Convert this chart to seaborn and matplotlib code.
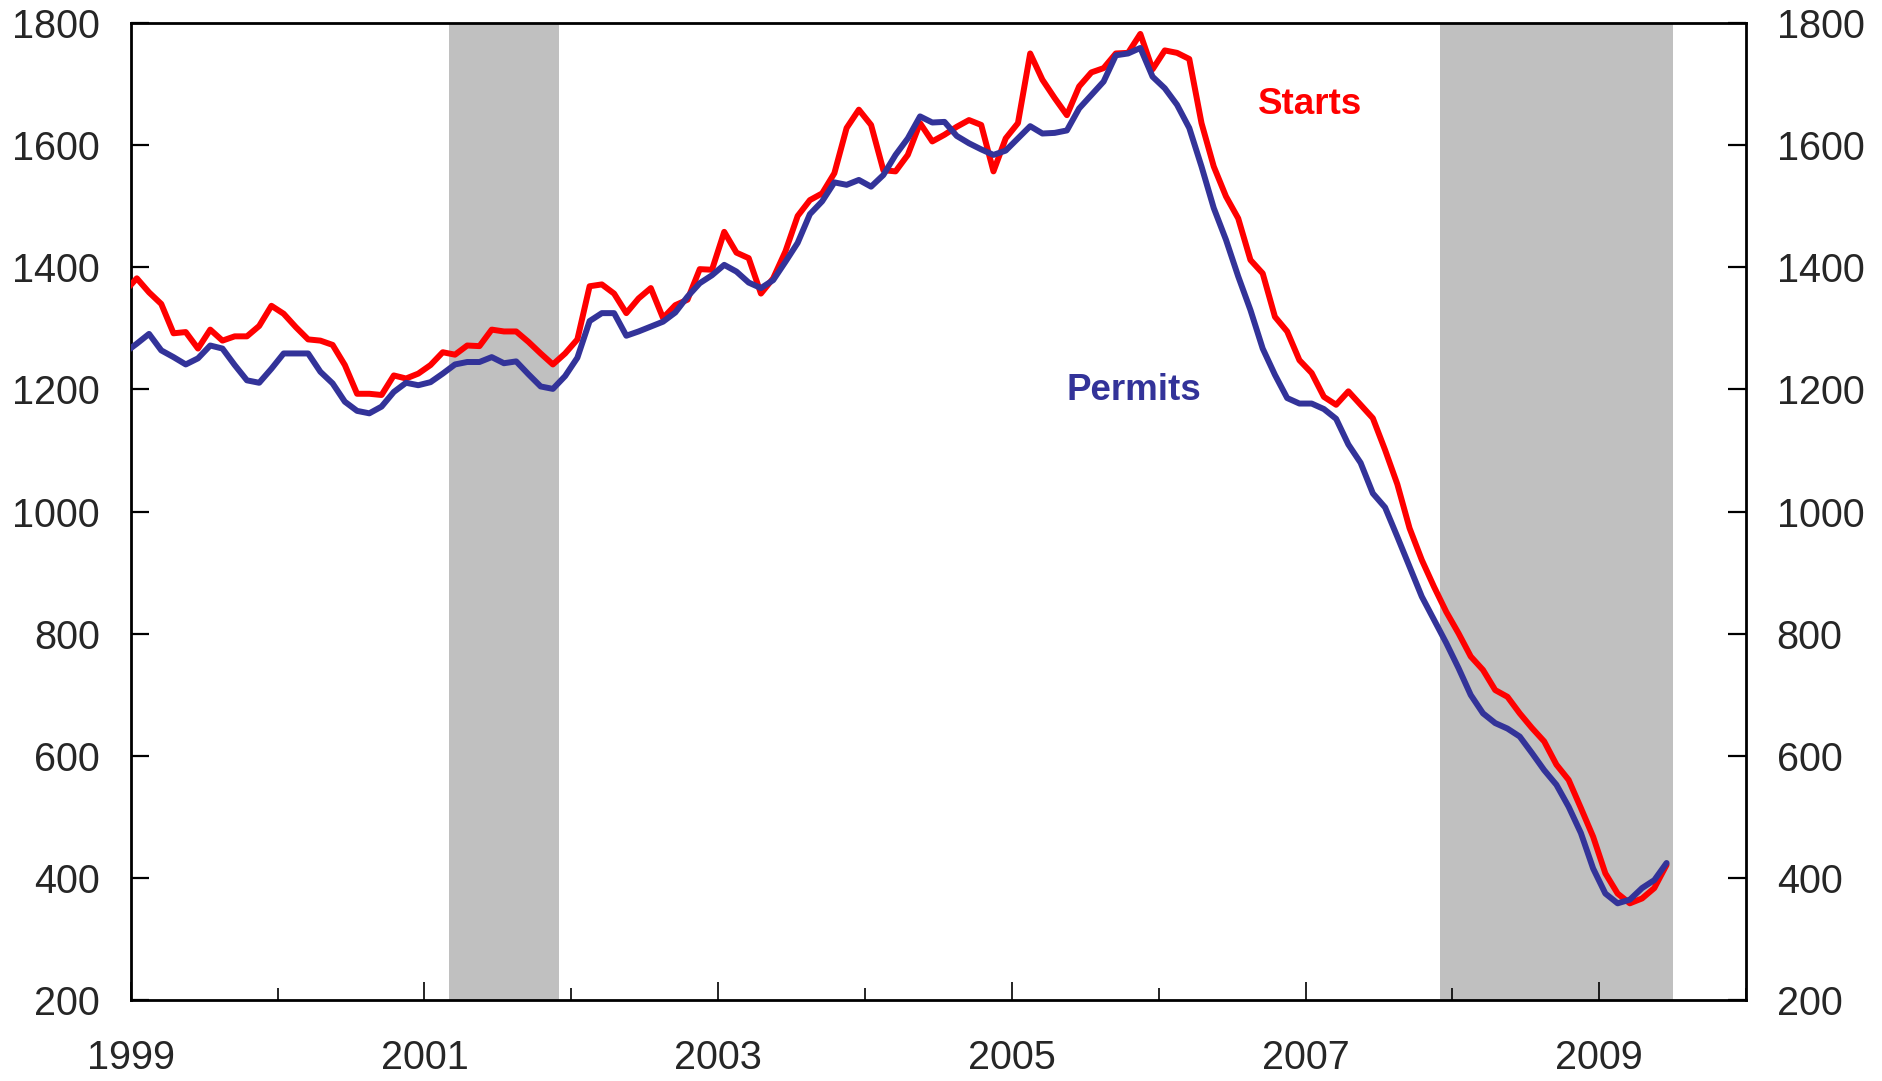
import numpy as np
import pandas as pd
import matplotlib
matplotlib.use("Agg")
import matplotlib.pyplot as plt
from matplotlib.ticker import FixedLocator
import seaborn as sns

# Monthly data, Dec 1998 .. Jun 2009 (thousands, annual rate)
start_month = "1998-12"
end_month = "2009-06"

starts = [1360,
    1382, 1359, 1340, 1292, 1294, 1267, 1298, 1280, 1287, 1287, 1304, 1337,
    1324, 1302, 1282, 1280, 1273, 1240, 1193, 1193, 1191, 1223, 1218, 1226,
    1240, 1261, 1257, 1272, 1271, 1298, 1295, 1295, 1278, 1259, 1241, 1259,
    1282, 1369, 1372, 1357, 1325, 1349, 1366, 1317, 1338, 1347, 1397, 1396,
    1458, 1424, 1415, 1357, 1382, 1426, 1484, 1510, 1521, 1554, 1628, 1658,
    1633, 1559, 1557, 1584, 1636, 1606, 1617, 1630, 1641, 1633, 1557, 1611,
    1636, 1750, 1707, 1677, 1649, 1696, 1719, 1726, 1750, 1751, 1782, 1724,
    1755, 1751, 1741, 1636, 1565, 1516, 1480, 1412, 1390, 1319, 1295, 1248,
    1227, 1188, 1175, 1197, 1175, 1153, 1101, 1045, 973, 921, 877, 836,
    801, 763, 741, 708, 697, 670, 646, 624, 586, 561, 515, 468,
    408, 375, 359, 367, 384, 422]

permits = [1260,
    1275, 1291, 1264, 1253, 1241, 1251, 1272, 1267, 1240, 1215, 1211, 1234,
    1259, 1259, 1259, 1229, 1210, 1180, 1165, 1161, 1172, 1196, 1211, 1207,
    1212, 1226, 1241, 1245, 1245, 1253, 1243, 1246, 1225, 1205, 1201, 1222,
    1252, 1312, 1325, 1325, 1288, 1295, 1303, 1311, 1326, 1352, 1374, 1387,
    1404, 1393, 1375, 1366, 1379, 1409, 1440, 1487, 1508, 1539, 1535, 1543,
    1532, 1551, 1584, 1611, 1647, 1637, 1638, 1615, 1603, 1593, 1584, 1591,
    1611, 1631, 1619, 1620, 1624, 1660, 1682, 1704, 1747, 1750, 1759, 1712,
    1693, 1666, 1628, 1565, 1497, 1445, 1385, 1330, 1267, 1224, 1186, 1177,
    1177, 1168, 1152, 1110, 1080, 1030, 1007, 959, 910, 861, 823, 785,
    744, 700, 670, 654, 645, 632, 605, 577, 553, 517, 474, 416,
    375, 359, 365, 384, 397, 425]

recessions = [("2001-03", "2001-11"), ("2007-12", "2009-06")]
year_ticks = list(range(1999, 2011))
year_labels = ["1999", "", "2001", "", "2003", "", "2005", "", "2007", "", "2009", ""]
y_ticks = [200, 400, 600, 800, 1000, 1200, 1400, 1600, 1800]

RED = "#FF0000"
BLUE = "#333399"
SHADE = "#C0C0C0"


def decimal_year(ts, mid=True):
    return ts.year + (ts.month - 1 + (0.5 if mid else 0.0)) / 12.0


dates = pd.date_range(start_month, end_month, freq="MS")
t = np.array([decimal_year(d) for d in dates])
df = pd.DataFrame({"t": np.concatenate([t, t]),
                   "value": starts + permits,
                   "series": ["Starts"] * len(t) + ["Permits"] * len(t)})

sns.set_style("white")
plt.rcParams["font.family"] = ["Liberation Sans", "DejaVu Sans"]

fig = plt.figure(figsize=(18.83, 10.81), dpi=100)
ax = fig.add_axes([0.0694, 0.0745, 0.8579, 0.9043])

for a, b in recessions:
    s = pd.Timestamp(a)
    e = pd.Timestamp(b) + pd.offsets.MonthBegin(1)
    ax.axvspan(decimal_year(s, False), decimal_year(e, False), color=SHADE, lw=0, zorder=0)

sns.lineplot(data=df, x="t", y="value", hue="series", hue_order=["Starts", "Permits"],
             palette=[RED, BLUE], linewidth=4.3, legend=False, ax=ax, zorder=3,
             estimator=None, sort=False)

ax.set_xlim(1999, 2010)
ax.set_ylim(200, 1800)
ax.set_xlabel("")
ax.set_ylabel("")

ax.xaxis.set_major_locator(FixedLocator([y for y, l in zip(year_ticks, year_labels) if l]))
ax.xaxis.set_minor_locator(FixedLocator([y for y, l in zip(year_ticks, year_labels) if not l]))
ax.set_xticklabels([l for l in year_labels if l])
ax.set_yticks(y_ticks)

fs = 28.5
ax.tick_params(axis="x", which="major", direction="in", length=13, width=1.2,
               pad=28, labelsize=fs, bottom=True, top=False, color="black")
ax.tick_params(axis="x", which="minor", direction="in", length=9, width=1.2,
               bottom=True, top=False, color="black")
ax.tick_params(axis="y", which="major", direction="in", length=13, width=1.6,
               pad=22, labelsize=fs, left=True, right=True, labelleft=True,
               labelright=True, color="black")

for sp in ax.spines.values():
    sp.set_color("black")
    sp.set_linewidth(2.0)
    sp.set_visible(True)

ax.text(2006.675, 1651, "Starts", color=RED, fontsize=26.5, fontweight="bold",
        ha="left", va="baseline", zorder=5)
ax.text(2005.371, 1183, "Permits", color=BLUE, fontsize=26.5, fontweight="bold",
        ha="left", va="baseline", zorder=5)

fig.savefig("out.png", dpi=100, facecolor="white")
